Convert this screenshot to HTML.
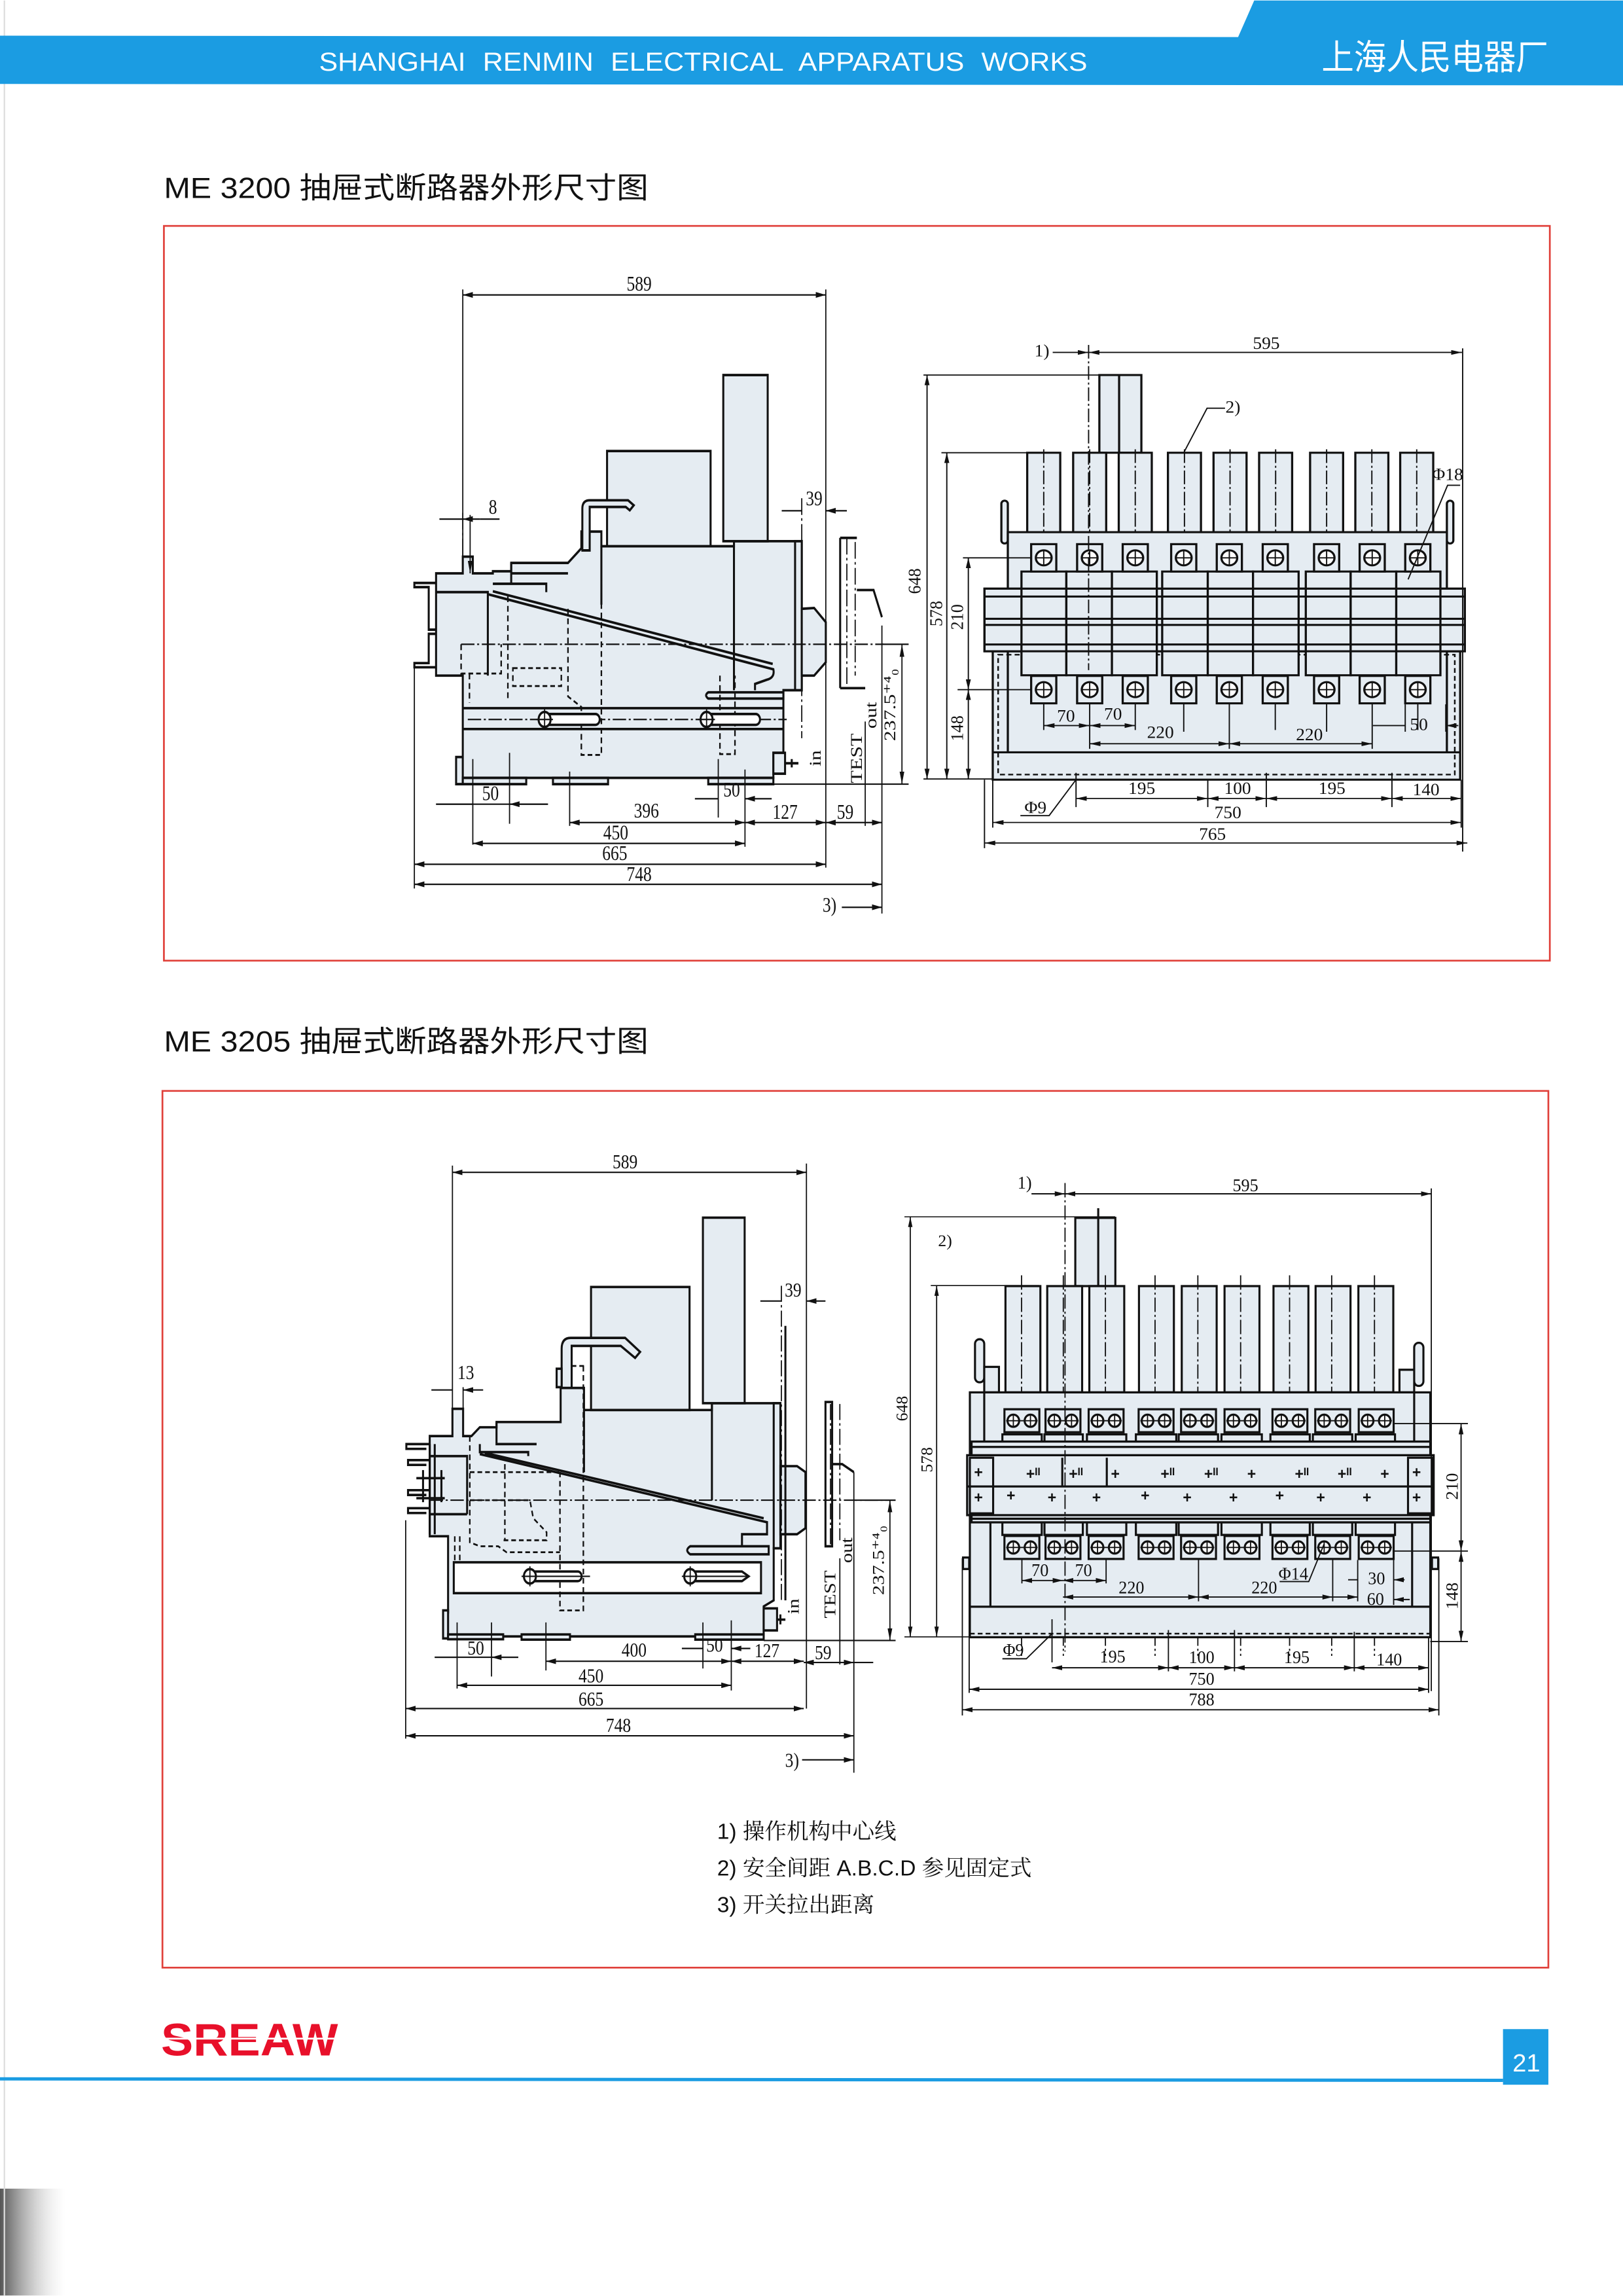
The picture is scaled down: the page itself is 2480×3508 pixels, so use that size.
<!DOCTYPE html>
<html><head><meta charset="utf-8"><style>
html,body{margin:0;padding:0;background:#fff}
svg{display:block}
.o{fill:#e5ecf2;stroke:#111;stroke-width:6}
.w{fill:#fff;stroke:#111;stroke-width:6}
.l{fill:none;stroke:#111;stroke-width:6}
.d{fill:none;stroke:#111;stroke-width:3.5}
.h{fill:none;stroke:#111;stroke-width:4.5;stroke-dasharray:14 9}
.c{fill:none;stroke:#111;stroke-width:3.5;stroke-dasharray:40 8 6 8}
.t{font-family:"Liberation Serif",serif;font-size:50px;fill:#111;text-anchor:middle}
</style></head><body>
<svg width="2480" height="3508" viewBox="0 0 1109 1568" xmlns="http://www.w3.org/2000/svg">
<defs>
<marker id="a" viewBox="0 0 30 14" refX="30" refY="7" markerWidth="30" markerHeight="14" markerUnits="userSpaceOnUse" orient="auto-start-reverse"><path d="M0,0L30,7L0,14z" fill="#111"/></marker>
<linearGradient id="sh" x1="0" x2="1"><stop offset="0" stop-color="#555"/><stop offset="1" stop-color="#ddd" stop-opacity="0"/></linearGradient>
</defs>
<rect width="1109" height="1568" fill="#fff"/>
<rect x="0" y="1495" width="45" height="73" fill="url(#sh)"/>
<line x1="3" y1="0" x2="3" y2="1568" stroke="#ddd" stroke-width="1"/>
<!-- header -->
<polygon points="0,24 846,25 857,0 1109,0 1109,58 0,57" fill="#1b9ce2"/>
<text x="218" y="48" font-family="Liberation Sans,sans-serif" font-size="18" fill="#fff" textLength="525" lengthAdjust="spacingAndGlyphs" word-spacing="6">SHANGHAI RENMIN ELECTRICAL APPARATUS WORKS</text>
<text x="903" y="47" font-family="Liberation Sans,'Noto Sans CJK SC',sans-serif" font-size="24" fill="#fff" textLength="155" lengthAdjust="spacingAndGlyphs">上海人民电器厂</text>
<!-- titles -->
<text x="112" y="135" font-family="Liberation Sans,'Noto Sans CJK SC',sans-serif" font-size="20" fill="#111" textLength="331" lengthAdjust="spacingAndGlyphs">ME 3200 抽屉式断路器外形尺寸图</text>
<text x="112" y="718" font-family="Liberation Sans,'Noto Sans CJK SC',sans-serif" font-size="20" fill="#111" textLength="331" lengthAdjust="spacingAndGlyphs">ME 3205 抽屉式断路器外形尺寸图</text>
<rect x="112" y="154" width="947" height="502" fill="none" stroke="#e0403a" stroke-width="1.2"/>
<rect x="111" y="745" width="947" height="599" fill="none" stroke="#e0403a" stroke-width="1.2"/>
<!-- notes -->
<g font-family="Liberation Sans,'Noto Serif CJK SC',serif" font-size="15" fill="#111">
<text x="490" y="1256">1) 操作机构中心线</text>
<text x="490" y="1281">2) 安全间距 A.B.C.D 参见固定式</text>
<text x="490" y="1306">3) 开关拉出距离</text>
</g>
<!-- footer -->
<text x="110" y="1404" font-family="Liberation Sans,sans-serif" font-weight="bold" font-size="31" fill="#e8102a" textLength="121" lengthAdjust="spacingAndGlyphs">SREAW</text>
<line x1="108" y1="1392.5" x2="233" y2="1392.5" stroke="#fff" stroke-width="1.2"/>
<line x1="0" y1="1420" x2="1027" y2="1421" stroke="#1b9ce2" stroke-width="2.2"/>
<rect x="1027" y="1386" width="31" height="38" fill="#1b9ce2"/>
<text x="1043" y="1415" font-family="Liberation Sans,sans-serif" font-size="17" fill="#fff" text-anchor="middle">21</text>

<!-- ============ LEFT VIEW 1 ============ -->
<g transform="translate(268.3,178.9) scale(0.2282,0.2852)">
<path class="o" d="M130,745H210V705H240V745H300V740H355V720H525L565,685V645H625V680H1022V668H1225V1025H1170V1175H1140V1235H210V1185H190V1250H210V990H130Z"/>
<rect class="o" x="990" y="270" width="133" height="398"/>
<rect class="o" x="642" y="452" width="310" height="228"/>
<path class="o" d="M568,690V590Q568,570 590,570H705L722,582L710,594L698,586H590V690Z"/>
<rect class="o" x="1205" y="668" width="20" height="357"/>
<polygon class="o" points="1225,830 1262,828 1297,862 1297,958 1262,990 1225,990"/>
<path class="l" d="M1022,668V1025M625,680V820M130,790H285V990M355,745H525M300,770H460V790M355,720V770"/>
<path class="l" d="M130,768H65V778H108V880H130M130,890H108V960H65V970H130"/>
<path class="l" d="M285,795L1140,975Q1145,995 1120,1000L1085,1010V1025M300,788L1138,962"/>
<path class="o" d="M945,1030H1170V1045H945Q932,1037 945,1030Z"/>
<path class="l" d="M210,1068H1170M210,1118H1170"/>
<path class="c" d="M205,915H1470M225,1095H1180M1225,565V1140M1360,660V1020M1385,670V990M210,600V740"/>
<path class="h" d="M205,915V985H325V915M360,972H505V1015H360ZM230,985V1055M525,830V1040L565,1065V1180H625V760M980,990V1178H1025V990M345,800V1045"/>
<rect class="w" x="455" y="1082" width="165" height="26" rx="13"/>
<circle class="w" cx="455" cy="1095" r="18"/><path class="d" d="M430,1095H480M455,1070V1120"/>
<rect class="w" x="940" y="1082" width="160" height="26" rx="13"/>
<circle class="w" cx="940" cy="1095" r="18"/><path class="d" d="M915,1095H965M940,1070V1120"/>
<rect class="o" x="210" y="1235" width="190" height="15"/>
<rect class="o" x="480" y="1235" width="165" height="15"/>
<rect class="o" x="945" y="1235" width="195" height="15"/>
<rect class="o" x="1140" y="1175" width="35" height="50"/><path class="l" d="M1175,1200H1215M1195,1190V1210"/>
<path class="l" d="M1340,660H1390M1340,1020H1415M1340,660V1020M1390,785H1440L1465,850"/>
<!-- dims -->
<path class="d" d="M210,78H1297" marker-start="url(#a)" marker-end="url(#a)"/>
<path class="d" d="M210,65V745M1297,65V1450M1465,870V1560M1415,1100V1350M65,960V1500"/>
<text class="t" x="738" y="68">589</text>
<path class="d" d="M140,615H210M262,615H320M232,605V745" marker-end="url(#a)"/>
<path class="d" d="M262,615H210" marker-end="url(#a)"/>
<text class="t" x="300" y="602">8</text>
<path class="d" d="M1165,595H1225M1360,595H1297" marker-end="url(#a)"/>
<text class="t" x="1262" y="582">39</text>
<path class="d" d="M1525,915V1250" marker-start="url(#a)" marker-end="url(#a)"/>
<path class="d" d="M1140,1250H1545M1465,915H1545"/>
<text class="t" transform="rotate(-90 1505 1060)" x="1505" y="1060">237.5⁺⁴₀</text>
<text class="t" transform="rotate(-90 1448 1085)" x="1448" y="1085">out</text>
<text class="t" transform="rotate(-90 1405 1188)" x="1405" y="1188">TEST</text>
<text class="t" transform="rotate(-90 1282 1188)" x="1282" y="1188">in</text>
<path class="d" d="M130,1298H240M465,1298H350" marker-end="url(#a)"/>
<path class="d" d="M240,1190V1395M350,1175V1345M130,1298H465"/>
<text class="t" x="293" y="1288">50</text>
<path class="d" d="M530,1342H1055" marker-start="url(#a)" marker-end="url(#a)"/>
<path class="d" d="M1055,1342H1297" marker-start="url(#a)" marker-end="url(#a)"/>
<path class="d" d="M1297,1342H1465" marker-start="url(#a)" marker-end="url(#a)"/>
<path class="d" d="M530,1220V1350M1055,1215V1400M975,1190V1330"/>
<text class="t" x="760" y="1330">396</text><text class="t" x="1175" y="1333">127</text><text class="t" x="1355" y="1333">59</text>
<path class="d" d="M905,1285H975M1135,1285H1055" marker-end="url(#a)"/>
<text class="t" x="1015" y="1280">50</text>
<path class="d" d="M240,1392H1055" marker-start="url(#a)" marker-end="url(#a)"/>
<text class="t" x="668" y="1382">450</text>
<path class="d" d="M65,1442H1297" marker-start="url(#a)" marker-end="url(#a)"/>
<text class="t" x="665" y="1432">665</text>
<path class="d" d="M65,1490H1465" marker-start="url(#a)" marker-end="url(#a)"/>
<text class="t" x="738" y="1482">748</text>
<path class="d" d="M1345,1545H1465" marker-end="url(#a)"/>
<text class="t" x="1308" y="1556">3)</text>
</g>

<!-- ============ RIGHT VIEW 1 ============ -->
<g transform="translate(626.1,223.6) scale(0.2453,0.2339)">
<defs>
<g id="s1"><rect class="o" x="-46" y="0" width="92" height="233"/><path class="c" d="M0,-10V820"/></g>
<g id="t1"><rect class="o" x="-35" y="-40" width="70" height="80"/><circle class="w" r="22"/><path class="d" d="M-22,0H22M0,-22V22"/></g>
</defs>
<rect class="o" x="510" y="138" width="117" height="227"/><path class="l" d="M565,138V365"/>
<use href="#s1" x="355" y="365"/><use href="#s1" x="483" y="365"/><use href="#s1" x="610" y="365"/>
<use href="#s1" x="747" y="365"/><use href="#s1" x="874" y="365"/><use href="#s1" x="1001" y="365"/>
<use href="#s1" x="1143" y="365"/><use href="#s1" x="1269" y="365"/><use href="#s1" x="1394" y="365"/>
<rect class="o" x="237" y="505" width="18" height="125" rx="9"/><rect class="o" x="1478" y="505" width="18" height="125" rx="9"/>
<rect class="o" x="213" y="945" width="1302" height="375"/>
<rect class="o" x="255" y="597" width="1223" height="168"/>
<path class="l" d="M255,945V1240M1478,945V1240M213,1240H1515"/>
<rect class="h" x="228" y="955" width="1272" height="350"/>
<rect class="o" x="190" y="762" width="1338" height="183"/>
<g class="o">
<rect x="293" y="712" width="125" height="303"/><rect x="418" y="712" width="127" height="303"/><rect x="545" y="712" width="125" height="303"/>
<rect x="685" y="712" width="127" height="303"/><rect x="812" y="712" width="126" height="303"/><rect x="938" y="712" width="127" height="303"/>
<rect x="1085" y="712" width="125" height="303"/><rect x="1210" y="712" width="127" height="303"/><rect x="1337" y="712" width="123" height="303"/>
</g>
<path class="l" d="M190,762H1528V945H190ZM190,785H1528M190,850H1528M190,868H1528M190,925H1528"/>
<g>
<use href="#t1" x="355" y="672"/><use href="#t1" x="483" y="672"/><use href="#t1" x="610" y="672"/>
<use href="#t1" x="745" y="672"/><use href="#t1" x="872" y="672"/><use href="#t1" x="1000" y="672"/>
<use href="#t1" x="1143" y="672"/><use href="#t1" x="1270" y="672"/><use href="#t1" x="1397" y="672"/>
<use href="#t1" x="355" y="1057"/><use href="#t1" x="483" y="1057"/><use href="#t1" x="610" y="1057"/>
<use href="#t1" x="745" y="1057"/><use href="#t1" x="872" y="1057"/><use href="#t1" x="1000" y="1057"/>
<use href="#t1" x="1143" y="1057"/><use href="#t1" x="1270" y="1057"/><use href="#t1" x="1397" y="1057"/>
</g>
<path class="d" d="M355,1097V1175M483,1097V1230M610,1097V1175M745,1097V1180M872,1097V1230M1000,1097V1175M1143,1097V1180M1270,1097V1230M1397,1097V1175"/>
<!-- dims -->
<path class="d" d="M380,72H480" marker-end="url(#a)"/>
<path class="d" d="M480,72H1520" marker-start="url(#a)" marker-end="url(#a)"/>
<path class="c" d="M480,50V1000"/><path class="d" d="M1522,60V1530"/>
<text class="t" x="350" y="84">1)</text><text class="t" x="975" y="62">595</text>
<path class="d" d="M745,365L810,235H860"/><text class="t" x="882" y="248">2)</text>
<path class="d" d="M20,138H510M70,365H313M130,672H320M115,1057H320M20,1318H213"/>
<path class="d" d="M30,138V1318" marker-start="url(#a)" marker-end="url(#a)"/>
<path class="d" d="M85,365V1318" marker-start="url(#a)" marker-end="url(#a)"/>
<path class="d" d="M145,672V1057" marker-start="url(#a)" marker-end="url(#a)"/>
<path class="d" d="M145,1057V1318" marker-start="url(#a)" marker-end="url(#a)"/>
<text class="t" transform="rotate(-90 12 740)" x="12" y="740">648</text>
<text class="t" transform="rotate(-90 72 835)" x="72" y="835">578</text>
<text class="t" transform="rotate(-90 130 845)" x="130" y="845">210</text>
<text class="t" transform="rotate(-90 130 1170)" x="130" y="1170">148</text>
<path class="d" d="M355,1162H483" marker-start="url(#a)" marker-end="url(#a)"/>
<path class="d" d="M483,1162H610" marker-start="url(#a)" marker-end="url(#a)"/>
<text class="t" x="417" y="1150">70</text><text class="t" x="548" y="1145">70</text>
<path class="d" d="M483,1215H872" marker-start="url(#a)" marker-end="url(#a)"/>
<path class="d" d="M872,1215H1270" marker-start="url(#a)" marker-end="url(#a)"/>
<text class="t" x="680" y="1198">220</text><text class="t" x="1095" y="1205">220</text>
<path class="d" d="M1272,1162H1362M1510,1162H1475" marker-end="url(#a)"/><path class="d" d="M1475,1100V1180M1362,1100V1180"/>
<text class="t" x="1400" y="1175">50</text>
<path class="d" d="M1370,735L1480,460H1515"/><text class="t" x="1480" y="445">Φ18</text>
<path class="d" d="M445,1300V1400M812,1320V1400M975,1300V1400M1325,1300V1400M213,1320V1460M1518,1320V1460M190,1320V1520"/>
<path class="d" d="M445,1375H812" marker-start="url(#a)" marker-end="url(#a)"/>
<path class="d" d="M812,1375H975" marker-start="url(#a)" marker-end="url(#a)"/>
<path class="d" d="M975,1375H1325" marker-start="url(#a)" marker-end="url(#a)"/>
<path class="d" d="M1325,1375H1518" marker-start="url(#a)" marker-end="url(#a)"/>
<text class="t" x="628" y="1362">195</text><text class="t" x="895" y="1362">100</text><text class="t" x="1158" y="1362">195</text><text class="t" x="1420" y="1365">140</text>
<path class="d" d="M213,1445H1518" marker-start="url(#a)" marker-end="url(#a)"/><text class="t" x="868" y="1432">750</text>
<path class="d" d="M190,1505H1535" marker-start="url(#a)" marker-end="url(#a)"/><text class="t" x="825" y="1495">765</text>
<path class="d" d="M445,1320L370,1425H290"/><text class="t" x="332" y="1418">Φ9</text>
</g>

<!-- ============ LEFT VIEW 2 ============ -->
<g transform="translate(259.4,778.2) scale(0.2282,0.2738)">
<path class="o" d="M150,740H218V672H250V740H275L300,718H350V705H542V620H612V675H995V658H1200V1020H1180V1150L1150,1165V1240H190V1180H205V990H150Z"/>
<rect class="o" x="968" y="195" width="125" height="463"/>
<rect class="o" x="633" y="368" width="295" height="307"/>
<path class="o" d="M545,620V522Q545,495 572,495H735L780,530L765,545L722,515H575V620Z"/>
<rect class="o" x="530" y="572" width="15" height="46"/>
<rect class="o" x="1180" y="658" width="20" height="362"/>
<polygon class="o" points="1200,815 1250,815 1275,830 1275,970 1250,985 1200,985"/>
<path class="l" d="M995,658V900M612,675V830M150,790H262V935M350,705V760H470M300,760V780H445V790M150,935H262"/>
<path class="l" d="M150,760H80V772H140M150,800H85V812H140M150,875H85V887H140M150,920H85V932H140M150,985V760M165,760V985M130,825V905M185,825V905M110,845H195M110,895H195"/>
<path class="l" d="M300,785L1160,955V985H1085V1015M315,782L1150,945"/>
<path class="o" d="M930,1015H1165V1035H930Q912,1025 930,1015Z"/>
<rect class="w" x="222" y="1055" width="920" height="77"/>
<path class="c" d="M150,900H1545M1203,365V1150M1350,660V1015M1378,660V1000"/>
<path class="h" d="M270,740V1005L300,1015H355L380,1030H540M270,830H540M270,900H450L460,945L500,980V1000H370M375,810V1000M610,565V1175H540V830M575,565H612M225,990V1050M240,990V1050"/>
<rect class="w" x="450" y="1078" width="155" height="24" rx="12"/>
<circle class="w" cx="450" cy="1090" r="18"/><path class="d" d="M425,1090H630M450,1065V1115"/>
<path class="w" d="M930,1078H1085L1105,1090L1085,1102H930Z"/>
<circle class="w" cx="930" cy="1090" r="18"/><path class="d" d="M905,1090H1100M930,1065V1115"/>
<rect class="o" x="190" y="1175" width="15" height="70"/>
<rect class="o" x="205" y="1235" width="165" height="12"/>
<rect class="o" x="425" y="1235" width="145" height="13"/>
<rect class="o" x="945" y="1235" width="205" height="13"/>
<rect class="o" x="1150" y="1170" width="40" height="55"/><path class="l" d="M1190,1198H1215M1200,1185V1210"/>
<path class="l" d="M1215,465V1150M1335,655H1355V1015H1335ZM1355,810H1385L1420,830"/>
<!-- dims -->
<path class="d" d="M218,82H1278" marker-start="url(#a)" marker-end="url(#a)"/>
<path class="d" d="M218,65V672M1278,60V1420M1420,830V1580M1378,1045V1310M78,950V1495"/>
<text class="t" x="735" y="72">589</text>
<path class="d" d="M155,625H218M310,625H250" marker-end="url(#a)"/><path class="d" d="M250,618V672"/>
<text class="t" x="258" y="598">13</text>
<path class="d" d="M1140,403H1203M1335,403H1278" marker-end="url(#a)"/>
<text class="t" x="1238" y="392">39</text>
<path class="d" d="M1528,900V1250" marker-start="url(#a)" marker-end="url(#a)"/>
<path class="d" d="M1150,1250H1545M1420,900H1545"/>
<text class="t" transform="rotate(-90 1510 1050)" x="1510" y="1050">237.5⁺⁴₀</text>
<text class="t" transform="rotate(-90 1415 1025)" x="1415" y="1025">out</text>
<text class="t" transform="rotate(-90 1365 1135)" x="1365" y="1135">TEST</text>
<text class="t" transform="rotate(-90 1255 1165)" x="1255" y="1165">in</text>
<path class="d" d="M165,1292H232M415,1292H335" marker-end="url(#a)"/>
<path class="d" d="M232,1205V1370M335,1205V1340M165,1292H415"/>
<text class="t" x="288" y="1285">50</text>
<path class="d" d="M498,1302H1053" marker-start="url(#a)" marker-end="url(#a)"/>
<path class="d" d="M1053,1302H1270" marker-start="url(#a)" marker-end="url(#a)"/>
<path class="d" d="M1270,1305H1420" marker-start="url(#a)" marker-end="url(#a)"/><path class="d" d="M1420,1305H1478"/>
<path class="d" d="M498,1205V1325M1053,1200V1375M968,1205V1320"/>
<text class="t" x="762" y="1290">400</text><text class="t" x="1160" y="1292">127</text><text class="t" x="1328" y="1297">59</text>
<path class="d" d="M905,1270H968M1110,1270H1053" marker-end="url(#a)"/>
<text class="t" x="1003" y="1278">50</text>
<path class="d" d="M232,1362H1053" marker-start="url(#a)" marker-end="url(#a)"/><text class="t" x="633" y="1355">450</text>
<path class="d" d="M78,1420H1270" marker-start="url(#a)" marker-end="url(#a)"/><text class="t" x="633" y="1413">665</text>
<path class="d" d="M78,1488H1420" marker-start="url(#a)" marker-end="url(#a)"/><text class="t" x="715" y="1478">748</text>
<path class="d" d="M1265,1548H1420" marker-end="url(#a)"/><text class="t" x="1235" y="1565">3)</text>
</g>

<!-- ============ RIGHT VIEW 2 ============ -->
<path d="M622,831V1118" stroke="#111" stroke-width="0.8" fill="none"/>
<path d="M640,878V1118" stroke="#111" stroke-width="0.8" fill="none"/>
<path d="M618,831H762M636,878H710M618,1118H700" stroke="#111" stroke-width="0.7" fill="none"/>
<polygon points="622,831 620.5,838 623.5,838" fill="#111"/><polygon points="622,1118 620.5,1111 623.5,1111" fill="#111"/>
<polygon points="640,878 638.5,885 641.5,885" fill="#111"/><polygon points="640,1118 638.5,1111 641.5,1111" fill="#111"/>
<text x="620" y="962" transform="rotate(-90 620 962)" font-family="Liberation Serif,serif" font-size="11.5" text-anchor="middle" fill="#111">648</text>
<text x="637" y="997" transform="rotate(-90 637 997)" font-family="Liberation Serif,serif" font-size="11.5" text-anchor="middle" fill="#111">578</text>
<text x="641" y="851" font-family="Liberation Serif,serif" font-size="11.5" fill="#111">2)</text>
<g transform="translate(644,787.1) scale(0.2339,0.2453)">
<defs>
<g id="s2"><rect class="o" x="-50" y="0" width="102" height="296"/><path class="c" d="M-3,-30V1030"/></g>
<g id="t2"><rect class="o" x="-51" y="-32" width="102" height="64"/><circle class="w" cx="-25" r="17"/><circle class="w" cx="25" r="17"/><path class="d" d="M-46,0H46M-25,-17V17M25,-17V17"/></g>
</defs>
<rect class="o" x="388" y="182" width="117" height="190"/><path class="l" d="M455,155V372"/>
<use href="#s2" x="234" y="372"/><use href="#s2" x="356" y="372"/><use href="#s2" x="479" y="372"/>
<use href="#s2" x="624" y="372"/><use href="#s2" x="749" y="372"/><use href="#s2" x="874" y="372"/>
<use href="#s2" x="1017" y="372"/><use href="#s2" x="1140" y="372"/><use href="#s2" x="1265" y="372"/>
<rect class="o" x="95" y="520" width="27" height="120" rx="13"/><rect class="o" x="1378" y="530" width="27" height="120" rx="13"/>
<rect class="o" x="122" y="597" width="43" height="71"/><rect class="o" x="1335" y="605" width="43" height="63"/>
<rect class="o" x="80" y="1265" width="1345" height="85"/>
<rect class="o" x="80" y="668" width="1345" height="597"/>
<rect class="o" x="60" y="1128" width="18" height="32"/><rect class="o" x="1430" y="1128" width="18" height="32"/>
<path class="l" d="M140,1030V1265M1372,1030V1265M122,668V805M1378,668V805"/>
<path class="h" d="M80,1340H1425"/>
<g class="o">
<rect x="175" y="785" width="115" height="40"/><rect x="298" y="785" width="112" height="40"/><rect x="422" y="785" width="115" height="40"/>
<rect x="565" y="785" width="118" height="40"/><rect x="690" y="785" width="115" height="40"/><rect x="815" y="785" width="118" height="40"/>
<rect x="958" y="785" width="115" height="40"/><rect x="1082" y="785" width="115" height="40"/><rect x="1207" y="785" width="115" height="40"/>
<rect x="175" y="1030" width="115" height="35"/><rect x="298" y="1030" width="112" height="35"/><rect x="422" y="1030" width="115" height="35"/>
<rect x="565" y="1030" width="118" height="35"/><rect x="690" y="1030" width="115" height="35"/><rect x="815" y="1030" width="118" height="35"/>
<rect x="958" y="1030" width="115" height="35"/><rect x="1082" y="1030" width="115" height="35"/><rect x="1207" y="1030" width="115" height="35"/>
</g>
<rect class="o" x="85" y="805" width="1340" height="225"/>
<rect class="o" x="72" y="843" width="1363" height="167"/>
<rect class="o" x="80" y="850" width="68" height="155"/><rect class="o" x="1360" y="850" width="70" height="155"/>
<path class="l" d="M72,930H1435M85,820H1425M85,1020H1425M480,850V930M350,850V930"/>
<g font-family="Liberation Sans,sans-serif" font-size="44" font-weight="bold" fill="#111" text-anchor="middle">
<text x="105" y="905">+</text><text x="105" y="975">+</text><text x="1385" y="905">+</text><text x="1385" y="975">+</text>
<text x="265" y="910">+ᴵᴵ</text><text x="390" y="910">+ᴵᴵ</text><text x="505" y="910">+</text><text x="658" y="910">+ᴵᴵ</text><text x="785" y="910">+ᴵᴵ</text><text x="903" y="910">+</text><text x="1050" y="910">+ᴵᴵ</text><text x="1175" y="910">+ᴵᴵ</text><text x="1292" y="910">+</text>
<text x="200" y="970">+</text><text x="320" y="975">+</text><text x="450" y="975">+</text><text x="592" y="970">+</text><text x="715" y="975">+</text><text x="850" y="975">+</text><text x="985" y="970">+</text><text x="1105" y="975">+</text><text x="1240" y="975">+</text>
</g>
<use href="#t2" x="232" y="747"/><use href="#t2" x="352" y="747"/><use href="#t2" x="478" y="747"/>
<use href="#t2" x="624" y="747"/><use href="#t2" x="748" y="747"/><use href="#t2" x="875" y="747"/>
<use href="#t2" x="1015" y="747"/><use href="#t2" x="1140" y="747"/><use href="#t2" x="1267" y="747"/>
<use href="#t2" x="232" y="1100"/><use href="#t2" x="352" y="1100"/><use href="#t2" x="478" y="1100"/>
<use href="#t2" x="624" y="1100"/><use href="#t2" x="748" y="1100"/><use href="#t2" x="875" y="1100"/>
<use href="#t2" x="1015" y="1100"/><use href="#t2" x="1140" y="1100"/><use href="#t2" x="1267" y="1100"/>
<!-- dims -->
<path class="d" d="M260,115H358" marker-end="url(#a)"/>
<path class="d" d="M358,115H1428" marker-start="url(#a)" marker-end="url(#a)"/>
<path class="c" d="M358,85V1390"/><path class="d" d="M1428,100V1500"/>
<text class="t" x="240" y="100">1)</text><text class="t" x="885" y="108">595</text>
<path class="d" d="M1320,755H1535M1320,1110H1535M1425,1362H1535"/>
<path class="d" d="M1515,755V1110" marker-start="url(#a)" marker-end="url(#a)"/>
<path class="d" d="M1515,1110V1362" marker-start="url(#a)" marker-end="url(#a)"/>
<text class="t" transform="rotate(-90 1505 930)" x="1505" y="930">210</text>
<text class="t" transform="rotate(-90 1505 1235)" x="1505" y="1235">148</text>
<path class="d" d="M232,1192H352" marker-start="url(#a)" marker-end="url(#a)"/>
<path class="d" d="M352,1192H478" marker-start="url(#a)" marker-end="url(#a)"/>
<text class="t" x="285" y="1180">70</text><text class="t" x="412" y="1180">70</text>
<path class="d" d="M232,1135V1200M478,1135V1200M748,1135V1250M1140,1135V1250M1213,1135V1250M1318,1135V1260"/>
<path class="d" d="M352,1238H748" marker-start="url(#a)" marker-end="url(#a)"/>
<path class="d" d="M748,1238H1140" marker-start="url(#a)" marker-end="url(#a)"/>
<path class="d" d="M1140,1238H1213" marker-end="url(#a)"/>
<text class="t" x="552" y="1228">220</text><text class="t" x="940" y="1228">220</text>
<path class="d" d="M1185,1190H1213M1350,1190H1318" marker-end="url(#a)"/><path class="d" d="M1365,1245H1318" marker-end="url(#a)"/>
<text class="t" x="1268" y="1202">30</text><text class="t" x="1265" y="1260">60</text>
<path class="d" d="M1115,1090L1070,1195H985"/><text class="t" x="1025" y="1190">Φ14</text>
<path class="d" d="M320,1300V1420M660,1330V1445M853,1330V1445M1203,1335V1445M1420,1350V1505M78,1140V1505M58,1130V1568M1450,1130V1568"/>
<path class="d" d="M320,1435H660" marker-start="url(#a)" marker-end="url(#a)"/>
<path class="d" d="M660,1435H853" marker-start="url(#a)" marker-end="url(#a)"/>
<path class="d" d="M853,1435H1203" marker-start="url(#a)" marker-end="url(#a)"/>
<path class="d" d="M1203,1435H1420" marker-start="url(#a)" marker-end="url(#a)"/>
<text class="t" x="497" y="1420">195</text><text class="t" x="757" y="1422">100</text><text class="t" x="1035" y="1422">195</text><text class="t" x="1305" y="1428">140</text>
<path class="d" d="M78,1495H1420" marker-start="url(#a)" marker-end="url(#a)"/><text class="t" x="757" y="1482">750</text>
<path class="d" d="M58,1552H1450" marker-start="url(#a)" marker-end="url(#a)"/><text class="t" x="757" y="1540">788</text>
<path class="d" d="M320,1340L245,1410H175"/><text class="t" x="207" y="1402">Φ9</text>
</g>
</svg>
</body></html>
